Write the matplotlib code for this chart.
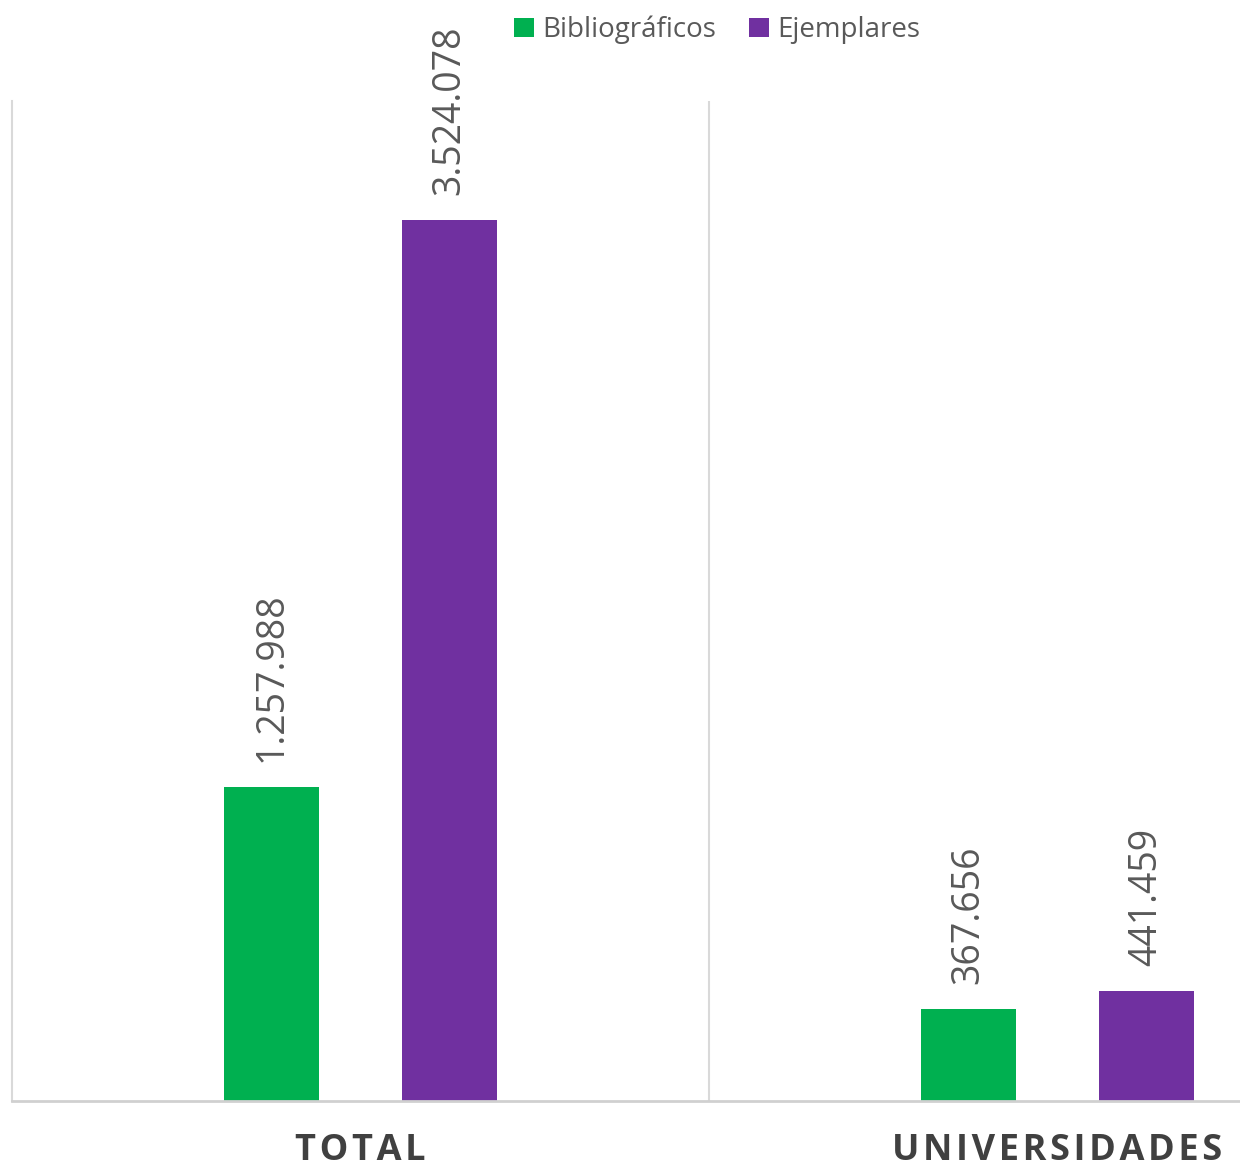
import matplotlib.pyplot as plt
import numpy as np

categories = ['TOTAL', 'UNIVERSIDADES']
bibliograficos = [1257988, 367656]
ejemplares = [3524078, 441459]
series_names = ['Bibliográficos', 'Ejemplares']
colors = ['#00B050', '#7030A0']

plt.rcParams['font.family'] = ['Open Sans', 'DejaVu Sans']


def fmt(v):
    return f'{v:,}'.replace(',', '.')


def spaced(s):
    return '\u200a'.join(s)


fig = plt.figure(figsize=(12.4, 11.72), dpi=100)
# the original chart is cropped on the right, so the axes run past the figure edge
ax = fig.add_axes([12 / 1240, 71 / 1172, 1394 / 1240, 1000 / 1172])

x = np.arange(len(categories))
width = 0.136
offset = 0.128
b1 = ax.bar(x - offset, bibliograficos, width, color=colors[0], label=series_names[0])
b2 = ax.bar(x + offset, ejemplares, width, color=colors[1], label=series_names[1])

for bars, vals in [(b1, bibliograficos), (b2, ejemplares)]:
    for rect, v in zip(bars, vals):
        ax.annotate(fmt(v), (rect.get_x() + rect.get_width() / 2, rect.get_height()),
                    xytext=(0, 18), textcoords='offset points', rotation=90,
                    ha='center', va='bottom', fontsize=27, color='#595959')

ax.set_xlim(-0.5, 1.5)
ax.set_ylim(0, 4000000)
ax.axvline(0.5, color='#D9D9D9', linewidth=1.5)

ax.set_xticks(x)
ax.set_xticklabels([spaced(c) for c in categories], fontsize=26, fontweight='bold',
                   color='#404040')
ax.tick_params(axis='x', length=0, pad=23)
ax.set_yticks([])

for side in ['top', 'right']:
    ax.spines[side].set_visible(False)
ax.spines['left'].set_color('#D9D9D9')
ax.spines['left'].set_linewidth(1.5)
ax.spines['bottom'].set_color('#D0D0D0')
ax.spines['bottom'].set_linewidth(2)

fig.legend(loc='center', bbox_to_anchor=(717 / 1240, 1 - 30 / 1172), ncol=2,
           frameon=False, fontsize=20, handlelength=0.7, handleheight=0.7,
           handletextpad=0.3, columnspacing=1.2, labelcolor='#595959')

fig.savefig('out.png', dpi=100)
